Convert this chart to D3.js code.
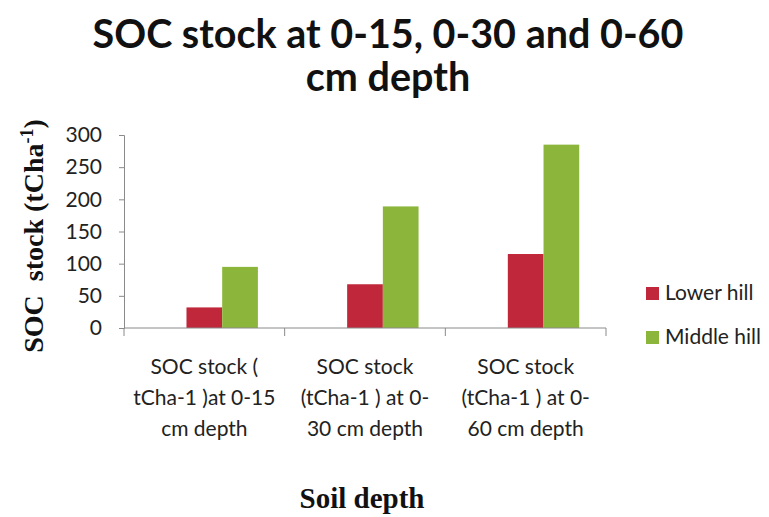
<!DOCTYPE html>
<html>
<head>
<meta charset="utf-8">
<script src="https://cdn.jsdelivr.net/npm/d3@7"></script>
<style>
  html, body { margin: 0; padding: 0; background: #fff; }
  svg { display: block; }
</style>
</head>
<body>
<svg id="chart" width="769" height="517"></svg>
<script>
// Category labels (wrapped into lines) and series values, tCha-1
const categories = ["0-15", "0-30", "0-60"];
const categoryLines = [
  ["SOC stock (", "tCha-1 )at 0-15", "cm depth"],
  ["SOC stock", "(tCha-1 ) at 0-", "30 cm depth"],
  ["SOC stock", "(tCha-1 ) at 0-", "60 cm depth"]
];
const seriesNames = ["Lower hill", "Middle hill"];
const lowerHill = [32, 68, 115];
const middleHill = [95, 189, 285];
const seriesColors = ["#C0273A", "#8BB63B"];
const yTicks = [0, 50, 100, 150, 200, 250, 300];

const svg = d3.select("#chart");
const bodyFont = "Lato, 'Open Sans', sans-serif";
const serifFont = "'Liberation Serif', 'DejaVu Serif', serif";
const axisColor = "#8a8a8a";

const plot = { left: 124, right: 606, top: 135, bottom: 328 };

const x0 = d3.scaleBand().domain(categories).range([plot.left, plot.right]).padding(0);
// Three bar slots per category; the two series sit in the last two slots
const x1 = d3.scaleBand().domain([0, 1, 2]).range([0, x0.bandwidth()])
  .paddingInner(0).paddingOuter(0.75);
const y = d3.scaleLinear().domain([0, 300]).range([plot.bottom, plot.top]);

const series = [
  { name: seriesNames[0], values: lowerHill, color: seriesColors[0], slot: 1 },
  { name: seriesNames[1], values: middleHill, color: seriesColors[1], slot: 2 }
];

// Bars
const groups = svg.append("g").selectAll("g").data(series).join("g")
  .attr("fill", d => d.color);
groups.selectAll("rect")
  .data(d => d.values.map((v, i) => ({ v, cat: categories[i], slot: d.slot })))
  .join("rect")
  .attr("x", d => x0(d.cat) + x1(d.slot))
  .attr("width", x1.bandwidth())
  .attr("y", d => y(d.v))
  .attr("height", d => y(0) - y(d.v));

// Y axis
const yAxis = svg.append("g")
  .attr("transform", `translate(${plot.left},0)`)
  .call(d3.axisLeft(y).tickValues(yTicks).tickSize(5).tickPadding(17));
yAxis.select(".domain").attr("stroke", axisColor);
yAxis.selectAll(".tick line").attr("stroke", axisColor);
yAxis.selectAll(".tick text")
  .attr("font-family", bodyFont).attr("font-size", 21).attr("fill", "#222");

// X axis: baseline plus tick marks at category boundaries
const xAxis = svg.append("g");
xAxis.append("line")
  .attr("x1", plot.left).attr("x2", plot.right)
  .attr("y1", y(0)).attr("y2", y(0))
  .attr("stroke", axisColor);
const boundaries = categories.map(c => x0(c)).concat([x0(categories[categories.length - 1]) + x0.bandwidth()]);
xAxis.selectAll("line.tk").data(boundaries).join("line")
  .attr("class", "tk")
  .attr("x1", d => d).attr("x2", d => d)
  .attr("y1", y(0)).attr("y2", y(0) + 8)
  .attr("stroke", axisColor);

// Category labels
const catLabels = svg.append("g").selectAll("text").data(categories).join("text")
  .attr("font-family", bodyFont).attr("font-size", 21).attr("fill", "#222")
  .attr("text-anchor", "middle");
catLabels.each(function (c, i) {
  const t = d3.select(this);
  categoryLines[i].forEach((line, j) => {
    t.append("tspan")
      .attr("x", x0(c) + x0.bandwidth() / 2)
      .attr("y", 374 + j * 31)
      .text(line);
  });
});

// Title
const title = svg.append("text")
  .attr("font-family", bodyFont).attr("font-weight", "bold").attr("font-size", 39.5)
  .attr("fill", "#111").attr("text-anchor", "middle");
title.append("tspan").attr("x", 388).attr("y", 48).text("SOC stock at 0-15, 0-30 and 0-60");
title.append("tspan").attr("x", 388).attr("y", 91).text("cm depth");

// Y axis title
const yTitle = svg.append("text")
  .attr("transform", "translate(43,236) rotate(-90)")
  .attr("font-family", serifFont).attr("font-weight", "bold").attr("font-size", 28)
  .attr("fill", "#111").attr("text-anchor", "middle")
  .style("white-space", "pre");
yTitle.append("tspan").text("SOC  stock (tCha");
yTitle.append("tspan").attr("dy", -10).attr("font-size", 18).text("-1");
yTitle.append("tspan").attr("dy", 10).text(")");

// X axis title
svg.append("text")
  .attr("x", 362).attr("y", 508)
  .attr("font-family", serifFont).attr("font-weight", "bold").attr("font-size", 29)
  .attr("fill", "#111").attr("text-anchor", "middle")
  .text("Soil depth");

// Legend
const legend = svg.append("g").selectAll("g").data(series).join("g")
  .attr("transform", (d, i) => `translate(646,${293 + i * 44})`);
legend.append("rect")
  .attr("x", 0).attr("y", -6).attr("width", 13).attr("height", 13)
  .attr("fill", d => d.color);
legend.append("text")
  .attr("x", 19).attr("y", 0).attr("dy", "0.35em")
  .attr("font-family", bodyFont).attr("font-size", 21).attr("fill", "#222")
  .text(d => d.name);
</script>
</body>
</html>
